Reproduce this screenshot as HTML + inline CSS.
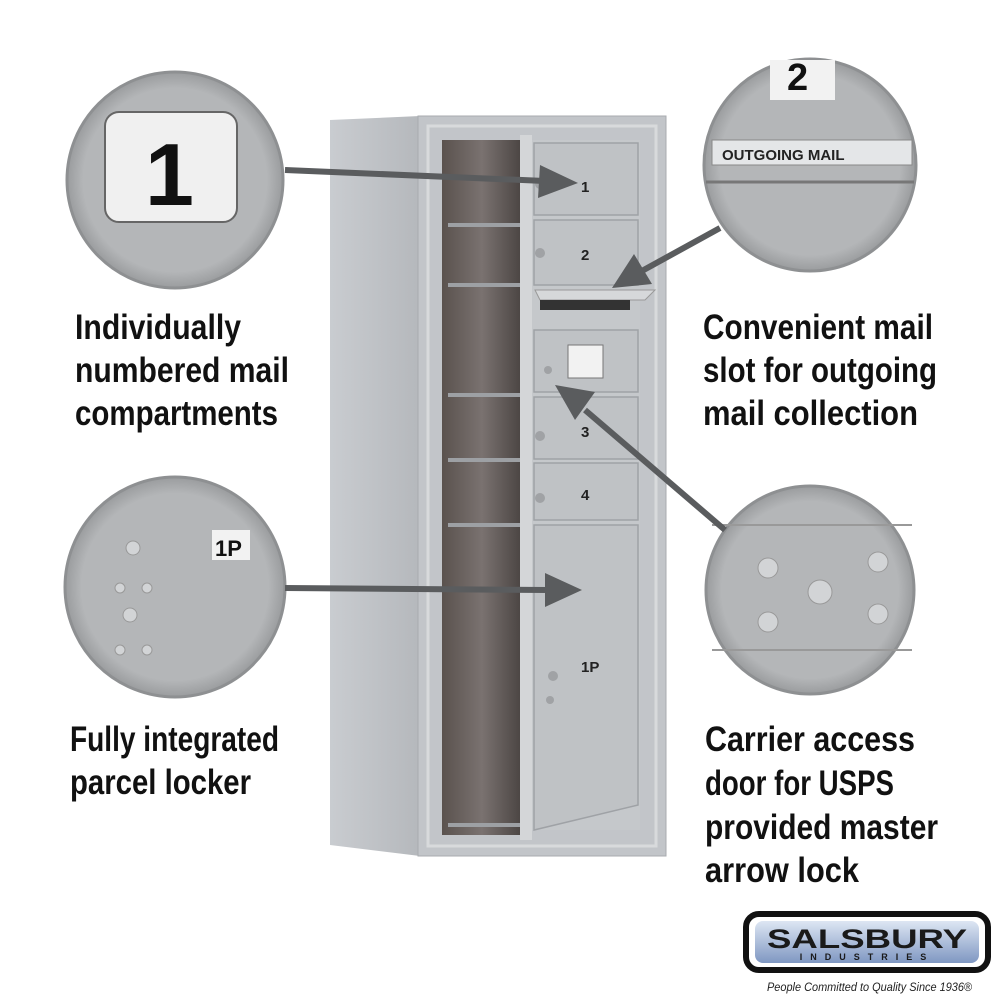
<!DOCTYPE html>
<html><head><meta charset="utf-8"><style>
body{margin:0;background:#fff;}
svg{display:block}
.t{font-family:"Liberation Sans",sans-serif;font-weight:bold;font-size:35px;fill:#111}
</style></head><body>
<svg width="1000" height="1000" viewBox="0 0 1000 1000" xmlns="http://www.w3.org/2000/svg">
<defs>
<linearGradient id="side" x1="0" x2="1"><stop offset="0" stop-color="#c9ccd0"/><stop offset="1" stop-color="#b5b8bc"/></linearGradient>
<linearGradient id="inside" x1="0" x2="1"><stop offset="0" stop-color="#5a524e"/><stop offset="0.5" stop-color="#7a7270"/><stop offset="1" stop-color="#4a4442"/></linearGradient>
<linearGradient id="logo" x1="0" y1="0" x2="0" y2="1"><stop offset="0" stop-color="#dde6f3"/><stop offset="1" stop-color="#7f97c2"/></linearGradient>
<radialGradient id="circ" cx="0.5" cy="0.5" r="0.5"><stop offset="0.85" stop-color="#b4b6b8"/><stop offset="1" stop-color="#9a9c9e"/></radialGradient>
</defs>
<!-- cabinet -->
<polygon points="330,120 420,116 420,856 330,845" fill="url(#side)"/>
<rect x="418" y="116" width="248" height="740" fill="#c2c5c9" stroke="#a8abaf"/>
<rect x="428" y="126" width="228" height="720" fill="none" stroke="#d8dadc" stroke-width="3"/>
<rect x="442" y="140" width="80" height="695" fill="url(#inside)"/>
<g stroke="#9da0a4" stroke-width="4">
<line x1="448" y1="225" x2="520" y2="225"/><line x1="448" y1="285" x2="520" y2="285"/>
<line x1="448" y1="395" x2="520" y2="395"/><line x1="448" y1="460" x2="520" y2="460"/>
<line x1="448" y1="525" x2="520" y2="525"/><line x1="448" y1="825" x2="520" y2="825"/>
</g>
<rect x="520" y="135" width="12" height="705" fill="#d4d6d8"/>
<rect x="532" y="140" width="108" height="690" fill="#c5c8cb"/>
<g fill="#bfc2c5" stroke="#9fa2a6" stroke-width="1.5">
<rect x="534" y="143" width="104" height="72"/>
<rect x="534" y="220" width="104" height="65"/>
<rect x="534" y="330" width="104" height="62"/>
<rect x="534" y="397" width="104" height="62"/>
<rect x="534" y="463" width="104" height="57"/>
<path d="M534 525 L638 525 L638 805 L534 830 Z"/>
</g>
<polygon points="535,290 655,290 645,300 540,300" fill="#d6d8da" stroke="#999"/>
<rect x="540" y="300" width="90" height="10" fill="#333"/>
<rect x="568" y="345" width="35" height="33" fill="#f2f2f2" stroke="#777"/>
<g font-family="Liberation Sans" font-weight="bold" font-size="15" fill="#222">
<text x="581" y="192">1</text><text x="581" y="260">2</text><text x="581" y="437">3</text><text x="581" y="500">4</text><text x="581" y="672">1P</text></g>
<g fill="#a0a2a5"><circle cx="540" cy="184" r="5"/><circle cx="540" cy="253" r="5"/><circle cx="548" cy="370" r="4"/><circle cx="540" cy="436" r="5"/><circle cx="540" cy="498" r="5"/><circle cx="553" cy="676" r="5"/><circle cx="550" cy="700" r="4"/></g>
<!-- circles -->
<g stroke="#8e9092" stroke-width="3" fill="url(#circ)">
<circle cx="175" cy="180" r="108"/><circle cx="810" cy="165" r="106"/>
<circle cx="175" cy="587" r="110"/><circle cx="810" cy="590" r="104"/></g>
<rect x="105" y="112" width="132" height="110" rx="14" fill="#f0f0f0" stroke="#666" stroke-width="2"/>
<text x="145" y="205" font-family="Liberation Sans" font-weight="bold" font-size="88" fill="#111">1</text>
<rect x="770" y="60" width="65" height="40" fill="#f2f2f2"/>
<text x="787" y="90" font-family="Liberation Sans" font-weight="bold" font-size="38" fill="#111">2</text>
<rect x="712" y="140" width="200" height="25" fill="#e4e6e8" stroke="#888"/>
<text x="722" y="160" font-family="Liberation Sans" font-weight="bold" font-size="15" fill="#222">OUTGOING MAIL</text>
<line x1="706" y1="182" x2="914" y2="182" stroke="#777" stroke-width="3"/>
<rect x="212" y="530" width="38" height="30" fill="#f2f2f2"/>
<text x="215" y="556" font-family="Liberation Sans" font-weight="bold" font-size="22" fill="#111">1P</text>
<g fill="#d2d4d6" stroke="#999"><circle cx="133" cy="548" r="7"/><circle cx="130" cy="615" r="7"/>
<circle cx="120" cy="588" r="5"/><circle cx="147" cy="588" r="5"/><circle cx="120" cy="650" r="5"/><circle cx="147" cy="650" r="5"/>
<circle cx="768" cy="568" r="10"/><circle cx="878" cy="562" r="10"/><circle cx="768" cy="622" r="10"/><circle cx="878" cy="614" r="10"/><circle cx="820" cy="592" r="12"/></g>
<line x1="712" y1="525" x2="912" y2="525" stroke="#999" stroke-width="2"/>
<line x1="712" y1="650" x2="912" y2="650" stroke="#999" stroke-width="2"/>
<!-- arrows -->
<g stroke="#5a5c5e" stroke-width="6" fill="#5a5c5e">
<line x1="285" y1="170" x2="545" y2="181"/><polygon stroke="none" points="578,183 540,165 538,198"/>
<line x1="720" y1="228" x2="640" y2="272"/><polygon stroke="none" points="612,288 634,254 652,284"/>
<line x1="725" y1="530" x2="585" y2="410"/><polygon stroke="none" points="555,385 595,392 575,420"/>
<line x1="285" y1="588" x2="548" y2="590"/><polygon stroke="none" points="582,590 545,573 545,607"/>
</g>
<!-- labels -->
<g class="t" font-family="Liberation Sans" font-weight="bold" font-size="35" fill="#111">
<text x="75" y="339" textLength="166" lengthAdjust="spacingAndGlyphs">Individually</text>
<text x="75" y="382" textLength="214" lengthAdjust="spacingAndGlyphs">numbered mail</text>
<text x="75" y="425" textLength="203" lengthAdjust="spacingAndGlyphs">compartments</text>
<text x="703" y="339" textLength="230" lengthAdjust="spacingAndGlyphs">Convenient mail</text>
<text x="703" y="382" textLength="234" lengthAdjust="spacingAndGlyphs">slot for outgoing</text>
<text x="703" y="425" textLength="215" lengthAdjust="spacingAndGlyphs">mail collection</text>
<text x="70" y="751" textLength="209" lengthAdjust="spacingAndGlyphs">Fully integrated</text>
<text x="70" y="794" textLength="181" lengthAdjust="spacingAndGlyphs">parcel locker</text>
<text x="705" y="751" textLength="210" lengthAdjust="spacingAndGlyphs">Carrier access</text>
<text x="705" y="795" textLength="189" lengthAdjust="spacingAndGlyphs">door for USPS</text>
<text x="705" y="839" textLength="233" lengthAdjust="spacingAndGlyphs">provided master</text>
<text x="705" y="882" textLength="154" lengthAdjust="spacingAndGlyphs">arrow lock</text>
</g>
<!-- logo -->
<rect x="746" y="914" width="242" height="56" rx="13" fill="#fff" stroke="#111" stroke-width="6"/>
<rect x="755" y="921" width="224" height="42" rx="8" fill="url(#logo)"/>
<text x="867" y="948" text-anchor="middle" font-family="Liberation Sans" font-weight="bold" font-size="27" fill="#1a1a1a" textLength="200" lengthAdjust="spacingAndGlyphs">SALSBURY</text>
<text x="867" y="960" text-anchor="middle" font-family="Liberation Sans" font-weight="bold" font-size="9" fill="#1a1a1a" letter-spacing="8">INDUSTRIES</text>
<text x="767" y="991" font-family="Liberation Sans" font-style="italic" font-size="12" fill="#222" textLength="205" lengthAdjust="spacingAndGlyphs">People Committed to Quality Since 1936®</text>
</svg>
</body></html>
